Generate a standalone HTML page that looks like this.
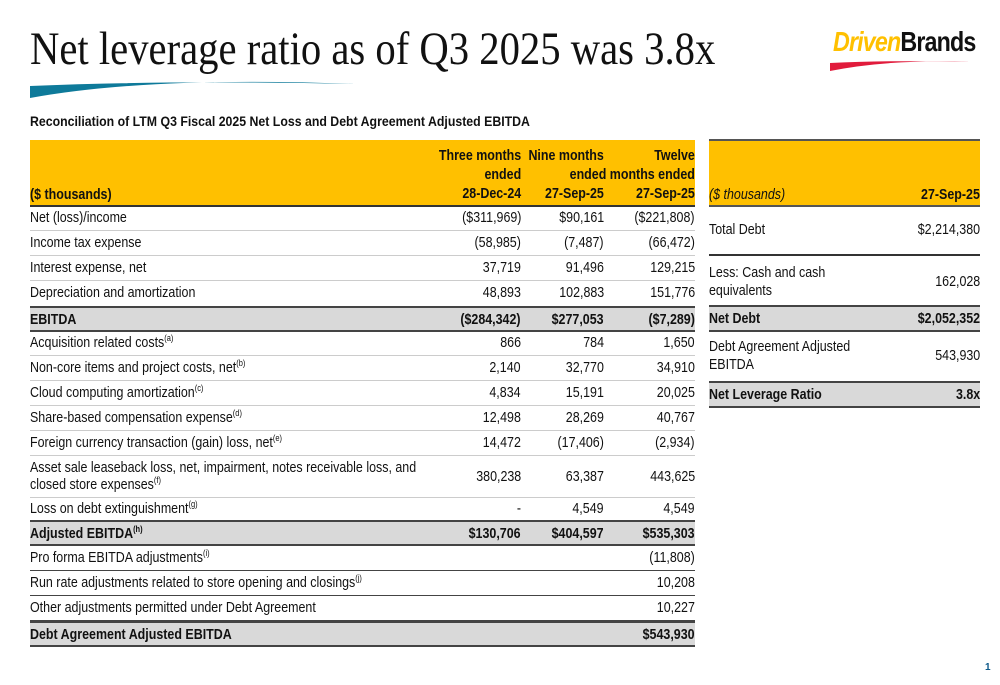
<!DOCTYPE html>
<html><head><meta charset="utf-8"><style>
body{margin:0;width:1000px;height:685px;overflow:hidden;background:#fff;font-family:"Liberation Sans",sans-serif;position:relative;color:#111}
.a{position:absolute}
.title{left:30px;top:22px;font-family:"Liberation Serif",serif;font-size:47px;white-space:nowrap;transform:scaleX(0.865);transform-origin:left top;color:#111}
.sub{left:30px;top:113px;font-family:"Liberation Sans",sans-serif;font-weight:bold;font-size:14px;white-space:nowrap;transform:scaleX(0.88);transform-origin:left top}
.hdr{background:#ffc000;border-bottom:2px solid #333}
.row{position:absolute;left:30px;width:665px;font-size:15px;border-bottom:1px solid #ccc;box-sizing:border-box}
.row span,.r span{position:absolute;white-space:nowrap;transform:scaleX(0.83)}
.row .l,.r .l{left:0;transform-origin:left center}
.c1,.c2,.c3,.r .v{text-align:right;transform-origin:right center}
.c1{right:174px}.c2{right:91px}.c3{right:0}
.b{font-weight:bold;background:#d9d9d9;border-top:2px solid #444;border-bottom:2px solid #444}
.d{border-bottom:1.5px solid #444}
sup{font-size:9px;line-height:0}
.r{position:absolute;left:709px;width:271px;font-size:15px;box-sizing:border-box}
.r .v{right:0}
</style></head><body>
<div class="a title">Net leverage ratio as of Q3 2025 was 3.8x</div>
<svg class="a" style="left:30px;top:74px" width="330" height="26"><path d="M0 24 Q120 2 325 10 Q140 6 0 12 Z" fill="#0e7a9a"/></svg>
<div class="a" style="left:833px;top:26px;width:140px;height:45px">
<div style="white-space:nowrap;transform:scaleX(0.83);transform-origin:left top"><span style="font-weight:bold;font-style:italic;font-size:28px;color:#ffc000;letter-spacing:-1px">Driven</span><span style="font-weight:bold;font-size:28px;color:#111;letter-spacing:-1px">Brands</span></div>
<svg style="position:absolute;left:-3px;top:32px" width="144" height="14"><path d="M0 13 Q60 1 140 4 Q60 2 0 5Z" fill="#e11b3c"/></svg></div>
<div class="a sub">Reconciliation of LTM Q3 Fiscal 2025 Net Loss and Debt Agreement Adjusted EBITDA</div>

<div class="row hdr" style="top:140px;height:67px;font-weight:bold;border-bottom:2px solid #333">
<span class="l" style="bottom:2px">($ thousands)</span>
<span class="c1" style="bottom:2px;line-height:19px">Three months<br>ended<br>28-Dec-24</span>
<span class="c2" style="bottom:2px;line-height:19px">Nine months<br>&nbsp;<br>27-Sep-25</span>
<span class="c3" style="bottom:2px;line-height:19px">Twelve<br>ended months ended<br>27-Sep-25</span>
</div>

<div class="row" style="top:207px;height:24px"><span class="l" style="top:2px">Net (loss)/income</span><span class="c1" style="top:2px">($311,969)</span><span class="c2" style="top:2px">$90,161</span><span class="c3" style="top:2px">($221,808)</span></div>
<div class="row" style="top:231px;height:25px"><span class="l" style="top:3px">Income tax expense</span><span class="c1" style="top:3px">(58,985)</span><span class="c2" style="top:3px">(7,487)</span><span class="c3" style="top:3px">(66,472)</span></div>
<div class="row" style="top:256px;height:25px"><span class="l" style="top:3px">Interest expense, net</span><span class="c1" style="top:3px">37,719</span><span class="c2" style="top:3px">91,496</span><span class="c3" style="top:3px">129,215</span></div>
<div class="row" style="top:281px;height:26px"><span class="l" style="top:3px">Depreciation and amortization</span><span class="c1" style="top:3px">48,893</span><span class="c2" style="top:3px">102,883</span><span class="c3" style="top:3px">151,776</span></div>
<div class="row b" style="top:306px;height:26px"><span class="l" style="top:3px">EBITDA</span><span class="c1" style="top:3px">($284,342)</span><span class="c2" style="top:3px">$277,053</span><span class="c3" style="top:3px">($7,289)</span></div>
<div class="row" style="top:332px;height:24px"><span class="l" style="top:2px">Acquisition related costs<sup>(a)</sup></span><span class="c1" style="top:2px">866</span><span class="c2" style="top:2px">784</span><span class="c3" style="top:2px">1,650</span></div>
<div class="row" style="top:356px;height:25px"><span class="l" style="top:3px">Non-core items and project costs, net<sup>(b)</sup></span><span class="c1" style="top:3px">2,140</span><span class="c2" style="top:3px">32,770</span><span class="c3" style="top:3px">34,910</span></div>
<div class="row" style="top:381px;height:25px"><span class="l" style="top:3px">Cloud computing amortization<sup>(c)</sup></span><span class="c1" style="top:3px">4,834</span><span class="c2" style="top:3px">15,191</span><span class="c3" style="top:3px">20,025</span></div>
<div class="row" style="top:406px;height:25px"><span class="l" style="top:3px">Share-based compensation expense<sup>(d)</sup></span><span class="c1" style="top:3px">12,498</span><span class="c2" style="top:3px">28,269</span><span class="c3" style="top:3px">40,767</span></div>
<div class="row" style="top:431px;height:25px"><span class="l" style="top:3px">Foreign currency transaction (gain) loss, net<sup>(e)</sup></span><span class="c1" style="top:3px">14,472</span><span class="c2" style="top:3px">(17,406)</span><span class="c3" style="top:3px">(2,934)</span></div>
<div class="row" style="top:456px;height:42px"><span class="l" style="top:3px;line-height:17px">Asset sale leaseback loss, net, impairment, notes receivable loss, and<br>closed store expenses<sup>(f)</sup></span><span class="c1" style="top:12px">380,238</span><span class="c2" style="top:12px">63,387</span><span class="c3" style="top:12px">443,625</span></div>
<div class="row" style="top:498px;height:23px"><span class="l" style="top:2px">Loss on debt extinguishment<sup>(g)</sup></span><span class="c1" style="top:2px">-</span><span class="c2" style="top:2px">4,549</span><span class="c3" style="top:2px">4,549</span></div>
<div class="row b" style="top:520px;height:26px"><span class="l" style="top:3px">Adjusted EBITDA<sup>(h)</sup></span><span class="c1" style="top:3px">$130,706</span><span class="c2" style="top:3px">$404,597</span><span class="c3" style="top:3px">$535,303</span></div>
<div class="row d" style="top:546px;height:25px"><span class="l" style="top:3px">Pro forma EBITDA adjustments<sup>(i)</sup></span><span class="c3" style="top:3px">(11,808)</span></div>
<div class="row d" style="top:571px;height:25px"><span class="l" style="top:3px">Run rate adjustments related to store opening and closings<sup>(j)</sup></span><span class="c3" style="top:3px">10,208</span></div>
<div class="row d" style="top:596px;height:25px"><span class="l" style="top:3px">Other adjustments permitted under Debt Agreement</span><span class="c3" style="top:3px">10,227</span></div>
<div class="row b" style="top:621px;height:26px"><span class="l" style="top:3px">Debt Agreement Adjusted EBITDA</span><span class="c3" style="top:3px">$543,930</span></div>

<div class="r" style="top:139px;height:68px;background:#ffc000;border-top:2px solid #555;border-bottom:2px solid #555"><span class="l" style="bottom:2px;font-style:italic">($ thousands)</span><span class="v" style="bottom:2px;font-weight:bold">27-Sep-25</span></div>
<div class="r" style="top:207px;height:49px;border-bottom:2px solid #333"><span class="l" style="top:14px">Total Debt</span><span class="v" style="top:14px">$2,214,380</span></div>
<div class="r" style="top:256px;height:50px"><span class="l" style="top:8px;line-height:18px">Less: Cash and cash<br>equivalents</span><span class="v" style="top:17px">162,028</span></div>
<div class="r" style="top:305px;height:27px;background:#d9d9d9;font-weight:bold;border-top:2px solid #444;border-bottom:2px solid #444"><span class="l" style="top:3px">Net Debt</span><span class="v" style="top:3px">$2,052,352</span></div>
<div class="r" style="top:332px;height:49px"><span class="l" style="top:6px;line-height:18px">Debt Agreement Adjusted<br>EBITDA</span><span class="v" style="top:15px">543,930</span></div>
<div class="r" style="top:381px;height:27px;background:#d9d9d9;font-weight:bold;border-top:2px solid #444;border-bottom:2px solid #444"><span class="l" style="top:3px">Net Leverage Ratio</span><span class="v" style="top:3px">3.8x</span></div>

<div class="a" style="left:985px;top:662px;font-size:10px;font-weight:bold;color:#0e5a8a">1</div>
</body></html>
